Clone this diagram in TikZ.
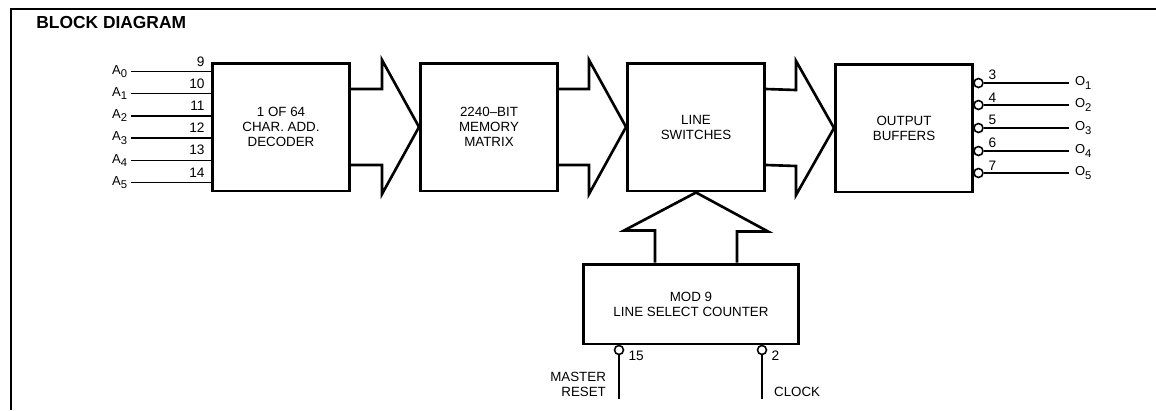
\documentclass[tikz,border=0pt]{standalone}
\usepackage{fontspec}
\setmainfont{Liberation Sans}
\usetikzlibrary{calc,positioning}
\tikzset{
    lab/.style={
        font=\fontsize{7.6}{8.5}\selectfont
    }
}
\newcommand{\lowsub}[1]{\raisebox{-1.8pt}{\fontsize{6.4}{7}\selectfont #1}}

\begin{document}
\begin{tikzpicture}[x=0.02cm,y=-0.02cm, line cap=butt, line join=miter]

% background
\useasboundingbox (0,0) rectangle (1156,410);

\tikzset{
  blk/.style={lab, draw=black, line width=1.7pt, align=center, minimum width=2.74cm, minimum height=2.56cm, inner sep=0pt},
  bus/.style={draw=black, line width=1.5pt},
  wire/.style={draw=black, line width=0.9pt},
  bub/.style={circle, draw=black, fill=white, line width=0.9pt, minimum size=0.18cm, inner sep=0pt},
  pinno/.style={font=\fontsize{7.8}{8}\selectfont, inner sep=0.5pt},
  sig/.style={font=\fontsize{7.4}{8}\selectfont, inner sep=1pt},
}

% frame and title
\draw[line width=1pt] (11,410) -- (11,9) -- (1156,9);
\node[anchor=base west, inner sep=0pt, font=\bfseries\fontsize{9.9}{11}\selectfont] (title) at (36,28) {BLOCK DIAGRAM};

% blocks
\node[blk] (dec) at (281,127) {1 OF 64\\CHAR. ADD.\\DECODER};
\node[blk] (mem) at (489,127) {2240--BIT\\MEMORY\\MATRIX};
\node[blk] (sw)  at (696,127) {LINE\\SWITCHES};
\node[blk] (out) at (904,128) {OUTPUT\\BUFFERS};
\node[blk, minimum width=4.32cm, minimum height=1.6cm] (cnt) at (691,304) {MOD 9\\LINE SELECT COUNTER};

% buses
\draw[bus] ([yshift=0.76cm]dec.east) -- ([xshift=-0.74cm,yshift=0.76cm]mem.west) -- ++(0,-29) -- (mem.west)
  -- ++(-37,67) -- ++(0,-29) -- ([yshift=-0.76cm]dec.east);
\draw[bus] ([yshift=0.76cm]mem.east) -- ([xshift=-0.74cm,yshift=0.76cm]sw.west) -- ++(0,-29) -- (sw.west)
  -- ++(-37,67) -- ++(0,-29) -- ([yshift=-0.76cm]mem.east);
\draw[bus] ([yshift=0.76cm]sw.east) -- ([xshift=-0.76cm,yshift=0.76cm]out.west) -- ++(0,-29) -- (out.west)
  -- ++(-38,67) -- ++(0,-29) -- ([yshift=-0.76cm]sw.east);
\draw[bus] ([xshift=-0.82cm]sw.south |- cnt.north) -- ++(0,-32) -- ++(-31,0) -- (sw.south)
  -- ++(72,39) -- ++(-31,0) -- ([xshift=0.82cm]sw.south |- cnt.north);

% address inputs
\coordinate (pA0) at ($(dec.west)+(0,-55.5)$);
\coordinate (pA1) at ($(dec.west)+(0,-33.3)$);
\coordinate (pA2) at ($(dec.west)+(0,-11.1)$);
\coordinate (pA3) at ($(dec.west)+(0,11.1)$);
\coordinate (pA4) at ($(dec.west)+(0,33.3)$);
\coordinate (pA5) at ($(dec.west)+(0,55.5)$);

\coordinate (eA0) at ($(pA0)+(-80,0)$);
\coordinate (eA1) at ($(pA1)+(-80,0)$);
\coordinate (eA2) at ($(pA2)+(-80,0)$);
\coordinate (eA3) at ($(pA3)+(-80,0)$);
\coordinate (eA4) at ($(pA4)+(-80,0)$);
\coordinate (eA5) at ($(pA5)+(-80,0)$);

\draw[wire] (eA0) -- (pA0);
\draw[wire] (eA1) -- (pA1);
\draw[wire] (eA2) -- (pA2);
\draw[wire] (eA3) -- (pA3);
\draw[wire] (eA4) -- (pA4);
\draw[wire] (eA5) -- (pA5);

\node[sig, left=1pt of eA0] (A0) {A\lowsub{0}};
\node[sig, left=1pt of eA1] (A1) {A\lowsub{1}};
\node[sig, left=1pt of eA2] (A2) {A\lowsub{2}};
\node[sig, left=1pt of eA3] (A3) {A\lowsub{3}};
\node[sig, left=1pt of eA4] (A4) {A\lowsub{4}};
\node[sig, left=1pt of eA5] (A5) {A\lowsub{5}};

\node[pinno, above left=2.3pt and 3pt of pA0] (n9)  {9};
\node[pinno, above left=2.3pt and 3pt of pA1] (n10) {10};
\node[pinno, above left=2.3pt and 3pt of pA2] (n11) {11};
\node[pinno, above left=2.3pt and 3pt of pA3] (n12) {12};
\node[pinno, above left=2.3pt and 3pt of pA4] (n13) {13};
\node[pinno, above left=2.3pt and 3pt of pA5] (n14) {14};

% outputs
\node[bub] (b3) at ($(out.east)+(4.5,-45)$) {};
\node[bub] (b4) at ($(out.east)+(4.5,-23)$) {};
\node[bub] (b5) at ($(out.east)+(4.5,0)$) {};
\node[bub] (b6) at ($(out.east)+(4.5,23)$) {};
\node[bub] (b7) at ($(out.east)+(4.5,45)$) {};

\coordinate (eO1) at ($(b3)+(91,0)$);
\coordinate (eO2) at ($(b4)+(91,0)$);
\coordinate (eO3) at ($(b5)+(91,0)$);
\coordinate (eO4) at ($(b6)+(91,0)$);
\coordinate (eO5) at ($(b7)+(91,0)$);

\draw[wire] (b3.east) -- (eO1);
\draw[wire] (b4.east) -- (eO2);
\draw[wire] (b5.east) -- (eO3);
\draw[wire] (b6.east) -- (eO4);
\draw[wire] (b7.east) -- (eO5);

\node[sig, right=2pt of eO1] (O1) {O\lowsub{1}};
\node[sig, right=2pt of eO2] (O2) {O\lowsub{2}};
\node[sig, right=2pt of eO3] (O3) {O\lowsub{3}};
\node[sig, right=2pt of eO4] (O4) {O\lowsub{4}};
\node[sig, right=2pt of eO5] (O5) {O\lowsub{5}};

\node[pinno, above right=1pt and 2pt of b3.east] (n3) {3};
\node[pinno, above right=1pt and 2pt of b4.east] (n4) {4};
\node[pinno, above right=1pt and 2pt of b5.east] (n5) {5};
\node[pinno, above right=1pt and 2pt of b6.east] (n6) {6};
\node[pinno, above right=1pt and 2pt of b7.east] (n7) {7};

% counter inputs
\node[bub] (b15) at ($(cnt.south)+(-72,4.5)$) {};
\node[bub] (b2)  at ($(cnt.south)+(71,4.5)$) {};

\coordinate (eMR) at ($(b15)+(0,49)$);
\coordinate (eCK) at ($(b2)+(0,49)$);

\draw[wire] (b15.south) -- (eMR);
\draw[wire] (b2.south) -- (eCK);

\node[pinno, anchor=west] (n15) at ($(b15.east)+(3,6)$) {15};
\node[pinno, anchor=west] (n2)  at ($(b2.east)+(3,6)$) {2};

\node[lab, align=right, anchor=south east, inner sep=1pt] (mr) at ($(eMR)+(-11,0)$) {MASTER\\RESET};
\node[lab, anchor=south west, inner sep=1pt] (ck) at ($(eCK)+(10,0)$) {CLOCK};

\end{tikzpicture}
\end{document}
